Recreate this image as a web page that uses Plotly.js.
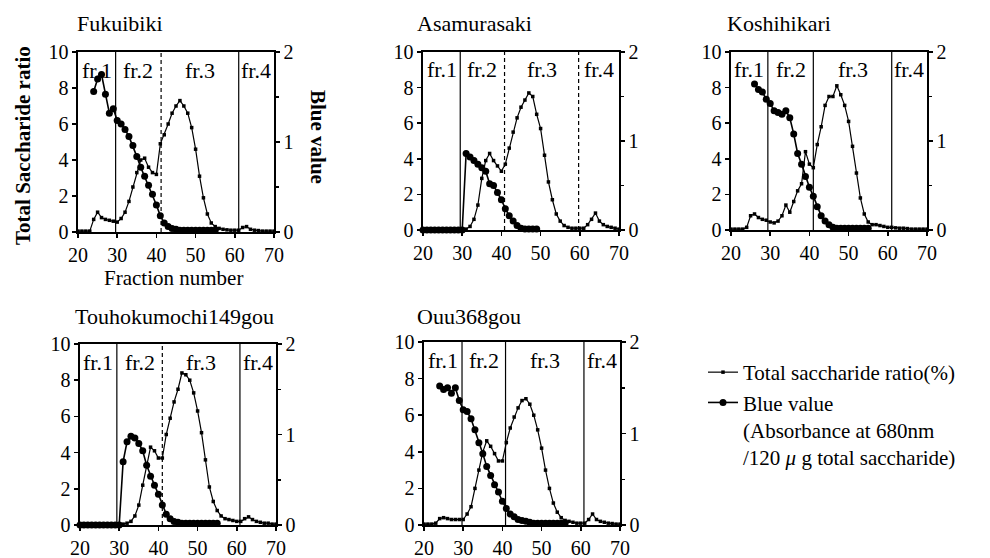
<!DOCTYPE html>
<html><head><meta charset="utf-8">
<script src="https://cdn.plot.ly/plotly-3.0.1.min.js"></script>
<style>html,body{margin:0;padding:0;background:#fff}#chart{width:990px;height:558px}</style>
</head><body><div id="chart"></div>
<script>
// ---------- DATA ----------
const fractions = [
  20,21,22,23,24,25,26,27,28,29,
  30,31,32,33,34,35,36,37,38,39,
  40,41,42,43,44,45,46,47,48,49,
  50,51,52,53,54,55,56,57,58,59,
  60,61,62,63,64,65,66,67,68,69,
  70];

const panelNames = ['Fukuibiki','Asamurasaki','Koshihikari','Touhokumochi149gou','Ouu368gou'];
const fractionLabels = ['fr.1','fr.2','fr.3','fr.4'];
const seriesNames = ['Total saccharide ratio(%)', 'Blue value<br>(Absorbance at 680nm<br>/120 <i>μ</i> g total saccharide)'];

// Total saccharide ratio (%), left axis
const tsFukuibiki = [
  0.05,0.05,0.05,0.05,0.7,1.1,0.8,0.7,0.65,0.6,
  0.55,0.75,1.1,1.7,2.5,3.3,4.0,4.1,3.6,3.3,
  3.2,4.9,5.4,6.0,6.6,7.0,7.3,7.0,6.6,5.8,
  4.6,3.1,1.9,1.0,0.5,0.3,0.2,0.15,0.12,0.1,
  0.1,0.1,0.25,0.3,0.15,0.1,0.08,0.05,0.05,0.05,
  0.05];
const tsAsamurasaki = [
  0.05,0.05,0.05,0.05,0.05,0.05,0.05,0.05,0.05,0.05,
  0.05,0.05,0.2,0.6,1.4,2.9,3.9,4.3,3.9,3.6,
  3.3,3.7,4.6,5.5,6.3,6.9,7.3,7.7,7.5,6.5,
  5.7,4.2,2.7,1.7,0.9,0.5,0.25,0.15,0.1,0.1,
  0.1,0.1,0.3,0.6,0.95,0.5,0.3,0.2,0.15,0.1,
  0.05];
const tsKoshihikari = [
  0.05,0.05,0.05,0.05,0.15,0.8,0.9,0.7,0.6,0.55,
  0.45,0.4,0.5,0.8,1.4,1.0,1.6,2.2,2.6,4.4,
  3.7,3.5,4.8,5.8,7.0,7.5,7.5,8.1,7.6,7.0,
  6.1,4.7,3.2,1.8,0.9,0.45,0.3,0.3,0.25,0.2,
  0.15,0.15,0.12,0.1,0.1,0.08,0.05,0.05,0.05,0.05,
  0.05];
const tsTouhoku = [
  0.05,0.05,0.05,0.05,0.05,0.05,0.05,0.05,0.05,0.05,
  0.05,0.05,0.1,0.2,0.5,1.1,2.2,3.3,4.3,4.1,
  3.7,3.7,5.0,5.9,6.8,7.5,8.4,8.3,8.0,7.3,
  6.3,5.1,3.6,2.1,1.3,0.8,0.5,0.35,0.3,0.25,
  0.2,0.2,0.35,0.45,0.3,0.2,0.15,0.1,0.1,0.05,
  0.05];
const tsOuu = [
  0.05,0.05,0.05,0.1,0.35,0.4,0.35,0.3,0.3,0.3,
  0.3,0.6,1.0,2.0,3.0,4.0,4.6,4.3,3.9,3.5,
  3.5,4.5,5.3,5.9,6.4,6.8,6.9,6.6,6.0,5.2,
  4.2,3.0,2.0,1.2,0.7,0.4,0.25,0.2,0.15,0.1,
  0.1,0.1,0.3,0.6,0.3,0.2,0.15,0.1,0.08,0.05,
  0.05];

// Blue value (absorbance), right axis
const bvFukuibiki = [
  null,null,null,null,1.56,1.70,1.75,1.53,1.32,1.37,
  1.24,1.20,1.14,1.06,0.96,0.84,0.72,0.62,0.52,0.42,
  0.30,0.18,0.10,0.06,0.04,0.03,0.02,0.02,0.02,0.02,
  0.02,0.02,0.02,0.02,0.02,0.02,null,null,null,null,
  null,null,null,null,null,null,null,null,null,null,
  null];
const bvAsamurasaki = [
  0,0,0,0,0,0,0,0,0,0,
  0,0.86,0.82,0.78,0.74,0.70,0.66,0.52,0.50,0.42,
  0.34,0.24,0.16,0.10,0.05,0.02,0.01,0.01,0.01,0.01,
  null,null,null,null,null,null,null,null,null,null,
  null,null,null,null,null,null,null,null,null,null,
  null];
const bvKoshihikari = [
  null,null,null,null,null,null,1.64,1.58,1.55,1.47,
  1.42,1.34,1.32,1.30,1.34,1.26,1.08,0.86,0.74,0.60,
  0.48,0.38,0.26,0.16,0.10,0.06,0.03,0.02,0.02,0.02,
  0.02,0.02,0.02,0.02,0.02,0.02,null,null,null,null,
  null,null,null,null,null,null,null,null,null,null,
  null];
const bvTouhoku = [
  0,0,0,0,0,0,0,0,0,0,
  0,0.70,0.92,0.98,0.96,0.90,0.82,0.66,0.54,0.44,
  0.34,0.22,0.12,0.07,0.04,0.03,0.02,0.02,0.02,0.02,
  0.02,0.02,0.02,0.02,0.02,0.02,null,null,null,null,
  null,null,null,null,null,null,null,null,null,null,
  null];
const bvOuu = [
  null,null,null,null,1.52,1.48,1.50,1.44,1.50,1.36,
  1.26,1.24,1.16,1.04,0.90,0.78,0.64,0.54,0.44,0.36,
  0.26,0.18,0.12,0.09,0.06,0.05,0.04,0.03,0.02,0.02,
  0.02,0.02,0.02,0.02,0.02,0.02,0.02,null,null,null,
  null,null,null,null,null,null,null,null,null,null,
  null];

// fraction boundaries (fraction number)
const divFukuibiki = [29.6, 41.2, 61.0];
const divAsamurasaki = [29.5, 40.8, 59.7];
const divKoshihikari = [29.4, 41.0, 61.0];
const divTouhoku = [29.4, 41.0, 60.8];
const divOuu = [29.7, 40.8, 60.8];

// ---------- STYLE / LAYOUT ----------
const W = 990, H = 558;
const FONT = 'Liberation Serif';
const tsSeries = [tsFukuibiki, tsAsamurasaki, tsKoshihikari, tsTouhoku, tsOuu];
const bvSeries = [bvFukuibiki, bvAsamurasaki, bvKoshihikari, bvTouhoku, bvOuu];
const divSeries = [divFukuibiki, divAsamurasaki, divKoshihikari, divTouhoku, divOuu];
const divDash = [
  ['solid','dash','solid'],
  ['solid','dash','dash'],
  ['solid','solid','solid'],
  ['solid','dash','solid'],
  ['solid','solid','solid']];
const geom = [
  {x:[78,274], y:[52,232], title:[75,23]},
  {x:[423,619], y:[52,230], title:[415,23]},
  {x:[731,927], y:[52,230], title:[725,23]},
  {x:[80,276], y:[344,525], title:[73,316]},
  {x:[424,620], y:[342,525], title:[415,316]}];

const traces = [];
const shapes = [];
const annotations = [];
const layout = {
  width: W, height: H, autosize: false,
  margin: {l:0, r:0, t:0, b:0},
  paper_bgcolor: '#fff', plot_bgcolor: 'rgba(0,0,0,0)',
  font: {family: FONT, size: 21, color: '#000'},
  showlegend: true,
  legend: {x: 703/W, xanchor: 'left', y: 1-352/H, yanchor: 'top', valign: 'top',
           font: {family: FONT, size: 21, color: '#000'},
           bgcolor: 'rgba(0,0,0,0)', tracegroupgap: 0, itemwidth: 30},
};
const tickfont = {family: FONT, size: 20, color: '#000'};
const key = id => id.replace(/^x/, 'xaxis').replace(/^y/, 'yaxis');

panelNames.forEach((name, i) => {
  const k = i + 1;
  const g = geom[i];
  const xid = k === 1 ? 'x' : 'x' + k;
  const yL = (2*k-1) === 1 ? 'y' : 'y' + (2*k-1);
  const yR = 'y' + (2*k);
  const xd = [g.x[0]/W, g.x[1]/W];
  const yd = [1 - g.y[1]/H, 1 - g.y[0]/H];

  layout[key(xid)] = {domain: xd, anchor: yL, range: [20, 70], tick0: 20, dtick: 10,
    ticks: 'outside', ticklen: 4, tickwidth: 1.5, tickcolor: '#000',
    showline: true, linewidth: 1.6, linecolor: '#000', mirror: true,
    showgrid: false, zeroline: false, tickfont: tickfont, ticklabelstandoff: 0};
  layout[key(yL)] = {domain: yd, anchor: xid, range: [0, 10], dtick: 2,
    ticks: 'outside', ticklen: 4, tickwidth: 1.5, tickcolor: '#000',
    showline: true, linewidth: 1.6, linecolor: '#000',
    showgrid: false, zeroline: false, tickfont: tickfont};
  layout[key(yR)] = {overlaying: yL, side: 'right', anchor: xid, range: [0, 2], dtick: 1,
    ticks: 'outside', ticklen: 4, tickwidth: 1.5, tickcolor: '#000',
    minor: {dtick: 0.5, ticks: 'outside', ticklen: 3, tickcolor: '#000'},
    showline: true, linewidth: 1.6, linecolor: '#000',
    showgrid: false, zeroline: false, tickfont: tickfont};

  traces.push({type: 'scatter', mode: 'lines+markers', x: fractions, y: tsSeries[i],
    xaxis: xid, yaxis: yL, name: seriesNames[0], showlegend: k === 1, legendrank: 1,
    cliponaxis: false, connectgaps: false,
    line: {color: '#000', width: 1.2}, marker: {symbol: 'square', size: 3.5, color: '#000'}});
  traces.push({type: 'scatter', mode: 'lines+markers', x: fractions, y: bvSeries[i],
    xaxis: xid, yaxis: yR, name: seriesNames[1], showlegend: k === 1, legendrank: 2,
    cliponaxis: false, connectgaps: false,
    line: {color: '#000', width: 1.6}, marker: {symbol: 'circle', size: 7, color: '#000'}});

  const bounds = [20].concat(divSeries[i]).concat([70]);
  divSeries[i].forEach((b, j) => {
    shapes.push({type: 'line', xref: xid, yref: yL + ' domain', x0: b, x1: b, y0: 0, y1: 1,
      line: {color: '#000', width: 1.2, dash: divDash[i][j] === 'dash' ? '4px,3px' : 'solid'}});
  });
  fractionLabels.forEach((lab, j) => {
    annotations.push({xref: xid, yref: yL, x: (bounds[j] + bounds[j+1]) / 2, y: 9,
      text: lab, showarrow: false, font: {family: FONT, size: 22, color: '#000'},
      xanchor: 'center', yanchor: 'middle'});
  });
  annotations.push({xref: 'paper', yref: 'paper', x: g.title[0]/W, y: 1 - g.title[1]/H,
    text: name, showarrow: false, xanchor: 'left', yanchor: 'middle',
    font: {family: FONT, size: 22, color: '#000'}});
});

annotations.push({xref: 'paper', yref: 'paper', x: 23/W, y: 1 - 146/H, textangle: -90,
  text: '<b>Total Saccharide ratio</b>', showarrow: false, xanchor: 'center', yanchor: 'middle',
  font: {family: FONT, size: 21, color: '#000'}});
annotations.push({xref: 'paper', yref: 'paper', x: 318/W, y: 1 - 137/H, textangle: 90,
  text: '<b>Blue value</b>', showarrow: false, xanchor: 'center', yanchor: 'middle',
  font: {family: FONT, size: 21, color: '#000'}});
annotations.push({xref: 'paper', yref: 'paper', x: 173/W, y: 1 - 278/H,
  text: 'Fraction number', showarrow: false, xanchor: 'center', yanchor: 'middle',
  font: {family: FONT, size: 21, color: '#000'}});

layout.shapes = shapes;
layout.annotations = annotations;

Plotly.newPlot('chart', traces, layout, {staticPlot: true, displayModeBar: false});
</script></body></html>
